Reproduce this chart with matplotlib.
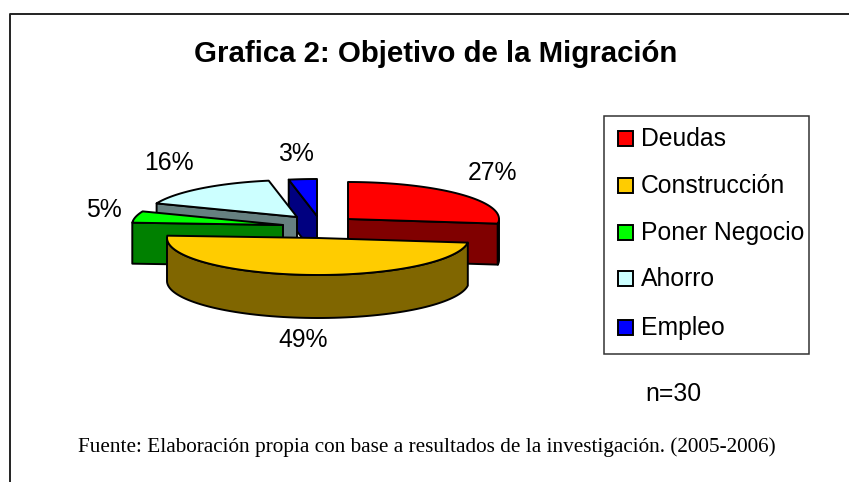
import numpy as np
import matplotlib
matplotlib.use('Agg')
import matplotlib.pyplot as plt
from matplotlib.patches import Polygon, Rectangle

# Data
categories = ['Deudas', 'Construcción', 'Poner Negocio', 'Ahorro', 'Empleo']
values = [27, 49, 5, 16, 3]
sample_note = 'n=30'
title = 'Grafica 2: Objetivo de la Migración'
source = 'Fuente: Elaboración propia con base a resultados de la investigación. (2005-2006)'

# Styles
top_colors = ['#FF0000', '#FFCC00', '#00FF00', '#CCFFFF', '#0000FF']
side_colors = ['#800000', '#806600', '#008000', '#668080', '#000080']

# Layout, all in image pixels
apexes = [(348, 219), (318, 238), (283, 225), (297, 217), (317, 216)]
depths = [41, 43, 41, 41, 41]
label_pos = [(493, 173), (303, 340), (104, 210), (169, 163), (296, 154)]
legend_y = [138, 185, 232, 278, 327]
RX, RY = 151, 37
draw_order = [0, 4, 3, 2, 1]

W, H = 849, 482
SANS = 'Liberation Sans'
SERIF = 'Liberation Serif'


def rim(apex, theta):
    """Point on the slice edge, theta clockwise from 12 o'clock (radians)."""
    return (apex[0] + RX * np.sin(theta), apex[1] - RY * np.cos(theta))


def draw_slice(ax, apex, t0, t1, depth, top, side):
    edge = dict(edgecolor='black', linewidth=1.4, joinstyle='round')

    # radial cut faces, only those turned towards the viewer
    for t, sign in ((t0, -1), (t1, 1)):
        if sign * np.sin(t) > 1e-6:
            x, y = rim(apex, t)
            ax.add_patch(Polygon([apex, (x, y), (x, y + depth),
                                  (apex[0], apex[1] + depth)],
                                 facecolor=side, **edge))

    # outer wall, front half of the pie only
    w0, w1 = max(t0, np.pi / 2), min(t1, 3 * np.pi / 2)
    if w1 > w0:
        ts = np.linspace(w0, w1, 80)
        upper = [rim(apex, t) for t in ts]
        lower = [(x, y + depth) for x, y in upper]
        ax.add_patch(Polygon(upper + lower[::-1], facecolor=side, **edge))

    # top face
    ts = np.linspace(t0, t1, 80)
    ax.add_patch(Polygon([apex] + [rim(apex, t) for t in ts],
                         facecolor=top, **edge))


fig = plt.figure(figsize=(W / 100, H / 100), dpi=100, facecolor='white')
ax = fig.add_axes([0, 0, 1, 1])
ax.set_xlim(0, W)
ax.set_ylim(H, 0)
ax.axis('off')

# chart frame, open to the right and bottom of the crop
ax.plot([10, 10, W], [H, 14, 14], color='#222222', linewidth=1.4)

ax.text(436, 54, title, ha='center', va='center', fontsize=21.2,
        family=SANS, weight='bold')

# pie slices
edges = np.cumsum([0] + values) / sum(values) * 2 * np.pi
for i in draw_order:
    draw_slice(ax, apexes[i], edges[i], edges[i + 1], depths[i],
               top_colors[i], side_colors[i])

for v, (x, y) in zip(values, label_pos):
    ax.text(x, y, f'{v}%', ha='center', va='center', fontsize=17.8, family=SANS)

# legend box
ax.add_patch(Rectangle((604.5, 115.5), 204.5, 238, facecolor='white',
                       edgecolor='#333333', linewidth=1.1))
for name, color, y in zip(categories, top_colors, legend_y):
    ax.add_patch(Rectangle((618, y - 7.5), 15, 15, facecolor=color,
                           edgecolor='black', linewidth=1.4))
    ax.text(641, y + 1, name, ha='left', va='center', fontsize=17.8, family=SANS)

ax.text(645, 394, sample_note, ha='left', va='center', fontsize=17.8, family=SANS)
ax.text(78, 447, source, ha='left', va='center', fontsize=15.3, family=SERIF)

fig.savefig('out.png', dpi=100, facecolor='white')
